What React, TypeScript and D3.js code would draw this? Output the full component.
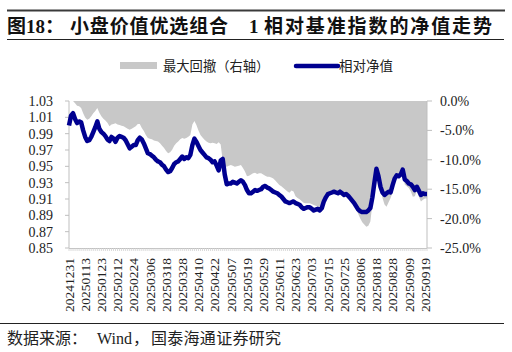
import React from 'react';
import * as d3 from 'd3';

// x-axis labels, one every 8 trading days
const tickLabels = [
  '20241231', '20250113', '20250123', '20250212', '20250224', '20250306',
  '20250318', '20250328', '20250410', '20250422', '20250507', '20250519',
  '20250529', '20250611', '20250623', '20250703', '20250715', '20250725',
  '20250806', '20250818', '20250828', '20250909', '20250919',
];

// relative NAV (left axis)
const nav = [
  1.000, 1.012, 1.015, 1.008, 1.003, 1.005, 1.004, 0.994, 0.986, 0.981,
  0.982, 0.986, 0.992, 0.998, 1.005, 0.996, 0.992, 0.990, 0.987, 0.983,
  0.981, 0.986, 0.984, 0.980, 0.985, 0.987, 0.986, 0.985, 0.982, 0.977,
  0.972, 0.974, 0.976, 0.976, 0.982, 0.985, 0.983, 0.978, 0.972, 0.966,
  0.965, 0.963, 0.961, 0.958, 0.956, 0.955, 0.952, 0.950, 0.946, 0.943,
  0.944, 0.948, 0.953, 0.955, 0.956, 0.959, 0.962, 0.959, 0.961, 0.960,
  0.964, 0.976, 0.984, 0.980, 0.975, 0.970, 0.967, 0.964, 0.961, 0.960,
  0.958, 0.955, 0.956, 0.951, 0.945, 0.957, 0.959, 0.940, 0.928, 0.929,
  0.929, 0.931, 0.930, 0.929, 0.931, 0.933, 0.931, 0.927, 0.921, 0.917,
  0.917, 0.919, 0.921, 0.920, 0.921, 0.922, 0.925, 0.926, 0.924, 0.923,
  0.921, 0.919, 0.918, 0.917, 0.915, 0.913, 0.910, 0.907, 0.906, 0.905,
  0.906, 0.907, 0.905, 0.904, 0.903, 0.900, 0.898, 0.899, 0.900, 0.900,
  0.898, 0.896, 0.897, 0.898, 0.896, 0.899, 0.907, 0.912, 0.916, 0.917,
  0.918, 0.919, 0.918, 0.917, 0.919, 0.917, 0.915, 0.916, 0.914, 0.911,
  0.908, 0.905, 0.901, 0.897, 0.895, 0.894, 0.894, 0.894, 0.896, 0.899,
  0.912, 0.930, 0.947, 0.938, 0.925, 0.918, 0.915, 0.917, 0.919, 0.918,
  0.927, 0.935, 0.939, 0.938, 0.940, 0.946, 0.934, 0.932, 0.929, 0.928,
  0.925, 0.921, 0.925, 0.920, 0.915, 0.917, 0.916, 0.916,
];

// max drawdown in % (right axis)
const drawdown = [
  0.0, 0.0, 0.0, -0.4, -0.8, -0.9, -1.2, -2.1, -2.8, -3.2,
  -3.0, -2.6, -2.1, -1.7, -1.2, -2.0, -2.6, -3.0, -3.3, -3.7,
  -4.3, -4.0, -3.9, -3.8, -4.0, -4.1, -4.2, -4.3, -4.5, -4.7,
  -4.9, -4.7, -4.5, -4.3, -3.9, -3.9, -4.6, -5.1, -5.8, -6.3,
  -6.4, -6.5, -6.7, -6.8, -6.9, -7.2, -7.6, -8.0, -8.5, -8.9,
  -8.7, -8.3, -7.6, -7.2, -6.9, -6.5, -6.3, -6.4, -6.3, -6.1,
  -5.8, -4.0, -3.4, -4.1, -5.0, -5.8, -6.2, -6.6, -6.9, -7.1,
  -7.2, -7.1, -7.2, -7.3, -7.0, -7.4, -10.2, -11.0, -11.2, -11.0,
  -10.9, -11.0, -11.2, -11.1, -11.0, -10.9, -11.4, -12.0, -12.8, -12.7,
  -12.5, -12.3, -12.2, -12.4, -12.3, -12.3, -12.5, -12.7, -12.9, -12.9,
  -13.0, -13.2, -13.5, -13.9, -14.3, -14.5, -14.8, -15.1, -15.4, -15.6,
  -15.2, -15.4, -16.2, -16.5, -16.7, -17.0, -17.3, -17.4, -17.4, -17.4,
  -17.5, -17.7, -17.8, -17.9, -18.0, -17.8, -16.7, -16.0, -15.6, -15.3,
  -15.2, -15.1, -15.3, -15.6, -15.7, -15.7, -15.7, -15.8, -16.0, -16.3,
  -17.0, -17.8, -18.5, -19.2, -20.0, -20.6, -21.0, -21.4, -21.2, -20.5,
  -17.5, -14.5, -11.8, -13.0, -14.7, -16.5, -17.6, -18.0, -17.2, -16.5,
  -15.5, -13.5, -13.1, -13.1, -12.8, -12.0, -14.2, -14.5, -14.8, -15.4,
  -16.3, -16.2, -15.2, -16.3, -17.1, -16.8, -16.6, -16.6,
];

const leftTicks = [0.85, 0.87, 0.89, 0.91, 0.93, 0.95, 0.97, 0.99, 1.01, 1.03];
const rightTicks = [-25, -20, -15, -10, -5, 0];

const serif = '"Liberation Serif", "Times New Roman", serif';
const cjk = '"Liberation Serif", "Noto Sans CJK SC", serif';
const axisGray = '#bfbfbf';

export default function App() {
  const width = 512;
  const height = 352;
  const left = 69, right = 427, top = 101, bottom = 248;

  const x = d3.scaleLinear().domain([0, nav.length - 1]).range([left, right]);
  const yL = d3.scaleLinear().domain([0.85, 1.03]).range([bottom, top]);
  const yR = d3.scaleLinear().domain([-25, 0]).range([bottom, top]);

  const area = d3.area<number>()
    .x((_, i) => x(i))
    .y0(yR(0))
    .y1(d => yR(d));

  const line = d3.line<number>()
    .x((_, i) => x(i))
    .y(d => yL(d))
    .curve(d3.curveLinear);

  return (
    <svg width={width} height={height} style={{ position: 'absolute', left: 0, top: 0, background: '#fff' }}>
      {/* header */}
      <line x1={7} x2={505} y1={10.5} y2={10.5} stroke="#3a3a3a" strokeWidth={2} />
      <text x={7} y={33} fontFamily={cjk} fontSize={19} fontWeight="bold" fill="#111">图18：</text>
      <text x={70} y={33} fontFamily={cjk} fontSize={19} fontWeight="bold" fill="#111"
        textLength={158} lengthAdjust="spacing">小盘价值优选组合</text>
      <text x={249} y={33} fontFamily={serif} fontSize={19} fontWeight="bold" fill="#111">1</text>
      <text x={264} y={33} fontFamily={cjk} fontSize={19} fontWeight="bold" fill="#111"
        textLength={228} lengthAdjust="spacing">相对基准指数的净值走势</text>
      <line x1={7} x2={504} y1={39.5} y2={39.5} stroke="#222" strokeWidth={1} />

      {/* legend */}
      <rect x={120} y={62} width={37} height={7} fill="#c8c8c8" />
      <text x={163} y={70.5} fontFamily={cjk} fontSize={13.3} fill="#222">最大回撤（右轴）</text>
      <line x1={296} x2={338} y1={66} y2={66} stroke="#000090" strokeWidth={4.5} strokeLinecap="round" />
      <text x={339} y={70.5} fontFamily={cjk} fontSize={13.5} fill="#222">相对净值</text>

      {/* drawdown area */}
      <path d={area(drawdown) || ''} fill="#c8c8c8" />

      {/* axes */}
      <line x1={left} x2={left} y1={top} y2={bottom} stroke={axisGray} />
      <line x1={right} x2={right} y1={top} y2={bottom} stroke={axisGray} />
      <line x1={left} x2={right} y1={bottom + 0.5} y2={bottom + 0.5} stroke={axisGray} />
      {leftTicks.map(t => (
        <g key={'l' + t}>
          <line x1={left - 4} x2={left} y1={yL(t)} y2={yL(t)} stroke={axisGray} />
          <text x={53} y={yL(t)} dy="0.35em" textAnchor="end" fontFamily={serif} fontSize={14} fill="#222">
            {t.toFixed(2)}
          </text>
        </g>
      ))}
      {rightTicks.map(t => (
        <g key={'r' + t}>
          <line x1={right} x2={right + 5} y1={yR(t)} y2={yR(t)} stroke={axisGray} />
          <text x={440} y={yR(t)} dy="0.35em" fontFamily={serif} fontSize={14} fill="#222">
            {t.toFixed(1) + '%'}
          </text>
        </g>
      ))}
      {nav.map((_, i) => (
        <line key={'t' + i} x1={x(i)} x2={x(i)} y1={bottom} y2={bottom + 3} stroke="#d0d0d0" strokeWidth={0.8} />
      ))}
      {tickLabels.map((lab, k) => (
        <text key={lab} transform={`translate(${x(k * 8)},258) rotate(-90)`}
          textAnchor="end" dy="0.35em" fontFamily={serif} fontSize={13.5} fill="#222">
          {lab}
        </text>
      ))}

      {/* relative NAV line */}
      <path d={line(nav) || ''} fill="none" stroke="#000090" strokeWidth={4.5} strokeLinejoin="round" />

      {/* footer */}
      <line x1={0} x2={504} y1={323.5} y2={323.5} stroke="#222" strokeWidth={1} />
      <text x={7} y={344} fontFamily={cjk} fontSize={16} fill="#222">数据来源：</text>
      <text x={97} y={344} fontFamily={serif} fontSize={16} fill="#222">Wind</text>
      <text x={133} y={344} fontFamily={cjk} fontSize={16} fill="#222">，</text>
      <text x={151} y={344} fontFamily={cjk} fontSize={16} fill="#222"
        textLength={130} lengthAdjust="spacing">国泰海通证券研究</text>
    </svg>
  );
}
